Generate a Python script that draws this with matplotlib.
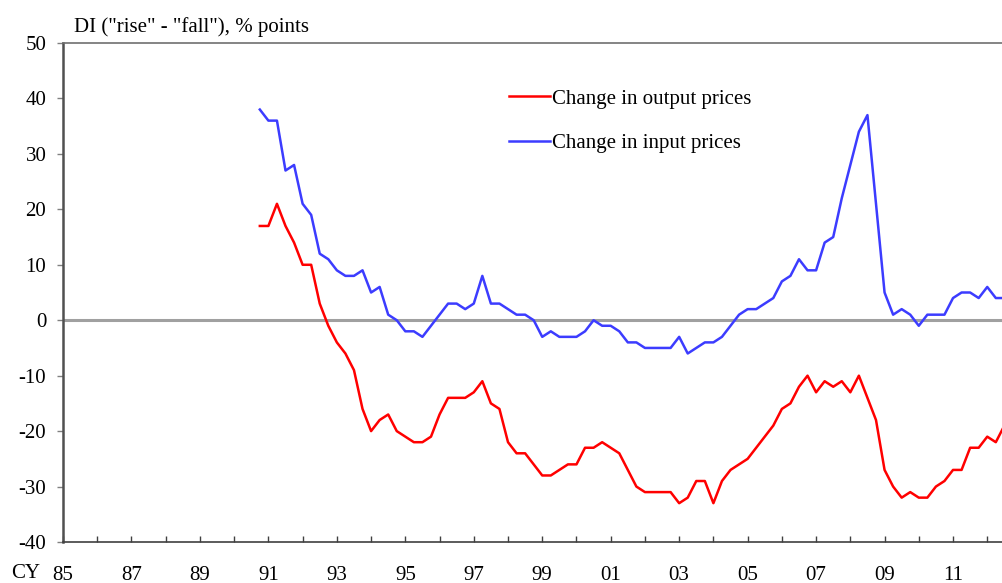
import numpy as np
import pandas as pd
from matplotlib import pyplot as plt

plt.rcParams['font.family'] = ['Liberation Serif', 'DejaVu Serif']
plt.rcParams['axes.unicode_minus'] = False

# quarterly survey results, 1990 Q4 onwards
quarters = pd.period_range('1990Q4', periods=88, freq='Q')

output_prices = [17, 17, 21, 17, 14, 10, 10, 3, -1, -4, -6, -9, -16, -20, -18, -17,
                 -20, -21, -22, -22, -21, -17, -14, -14, -14, -13, -11, -15, -16, -22, -24, -24,
                 -26, -28, -28, -27, -26, -26, -23, -23, -22, -23, -24, -27, -30, -31, -31, -31,
                 -31, -33, -32, -29, -29, -33, -29, -27, -26, -25, -23, -21, -19, -16, -15, -12,
                 -10, -13, -11, -12, -11, -13, -10, -14, -18, -27, -30, -32, -31, -32, -32, -30,
                 -29, -27, -27, -23, -23, -21, -22, -19]

input_prices = [38, 36, 36, 27, 28, 21, 19, 12, 11, 9, 8, 8, 9, 5, 6, 1,
                0, -2, -2, -3, -1, 1, 3, 3, 2, 3, 8, 3, 3, 2, 1, 1,
                0, -3, -2, -3, -3, -3, -2, 0, -1, -1, -2, -4, -4, -5, -5, -5,
                -5, -3, -6, -5, -4, -4, -3, -1, 1, 2, 2, 3, 4, 7, 8, 11,
                9, 9, 14, 15, 22, 28, 34, 37, 21, 5, 1, 2, 1, -1, 1, 1,
                1, 4, 5, 5, 4, 6, 4, 4]

tick_years = list(range(1985, 2013))
year_labels = ['85', '', '87', '', '89', '', '91', '', '93', '', '95', '', '97', '',
               '99', '', '01', '', '03', '', '05', '', '07', '', '09', '', '11', '']
y_ticks = [-40, -30, -20, -10, 0, 10, 20, 30, 40, 50]

t = np.array([q.year + (q.quarter - 1) / 4 for q in quarters])

fig = plt.figure(figsize=(10.03, 5.83), dpi=100)
ax = fig.add_axes([63 / 1003, 41 / 583, 1 - 63 / 1003, 499 / 583])

ax.axhline(0, color='#a0a0a0', lw=2.2, zorder=1)
ax.plot(t, output_prices, color='#ff0000', lw=1.8, label='Change in output prices', zorder=3)
ax.plot(t, input_prices, color='#3c3cff', lw=1.8, label='Change in input prices', zorder=3)

ax.set_xlim(1985, 2012.46)
ax.set_ylim(-40, 50)
ax.set_xticks(tick_years)
ax.set_xticklabels(year_labels)
ax.set_yticks(y_ticks)

ax.spines['right'].set_visible(False)
ax.spines['left'].set_color('#505050')
ax.spines['left'].set_linewidth(1.8)
ax.spines['bottom'].set_color('#404040')
ax.spines['bottom'].set_linewidth(1.2)
ax.spines['top'].set_color('#707070')
ax.spines['top'].set_linewidth(1.2)

ax.tick_params(axis='x', direction='in', length=4, width=1, color='#404040',
               pad=17, labelsize=15)
ax.tick_params(axis='y', direction='out', length=4, width=1, color='#808080',
               pad=8, labelsize=15)

fig.text(74 / 1003, 1 - 27 / 583, 'DI ("rise" - "fall"), % points', fontsize=15,
         va='center', ha='left')
fig.text(26 / 1003, 1 - 574 / 583, 'CY', fontsize=15, va='center', ha='center')

ax.legend(loc='upper left', bbox_to_anchor=(509 / 1003, 1 - 89 / 583),
          bbox_transform=fig.transFigure, frameon=False, fontsize=15,
          handlelength=1.95, handletextpad=0.1, labelspacing=1.2,
          borderpad=0, borderaxespad=0)

fig.savefig('out.png', dpi=100)
